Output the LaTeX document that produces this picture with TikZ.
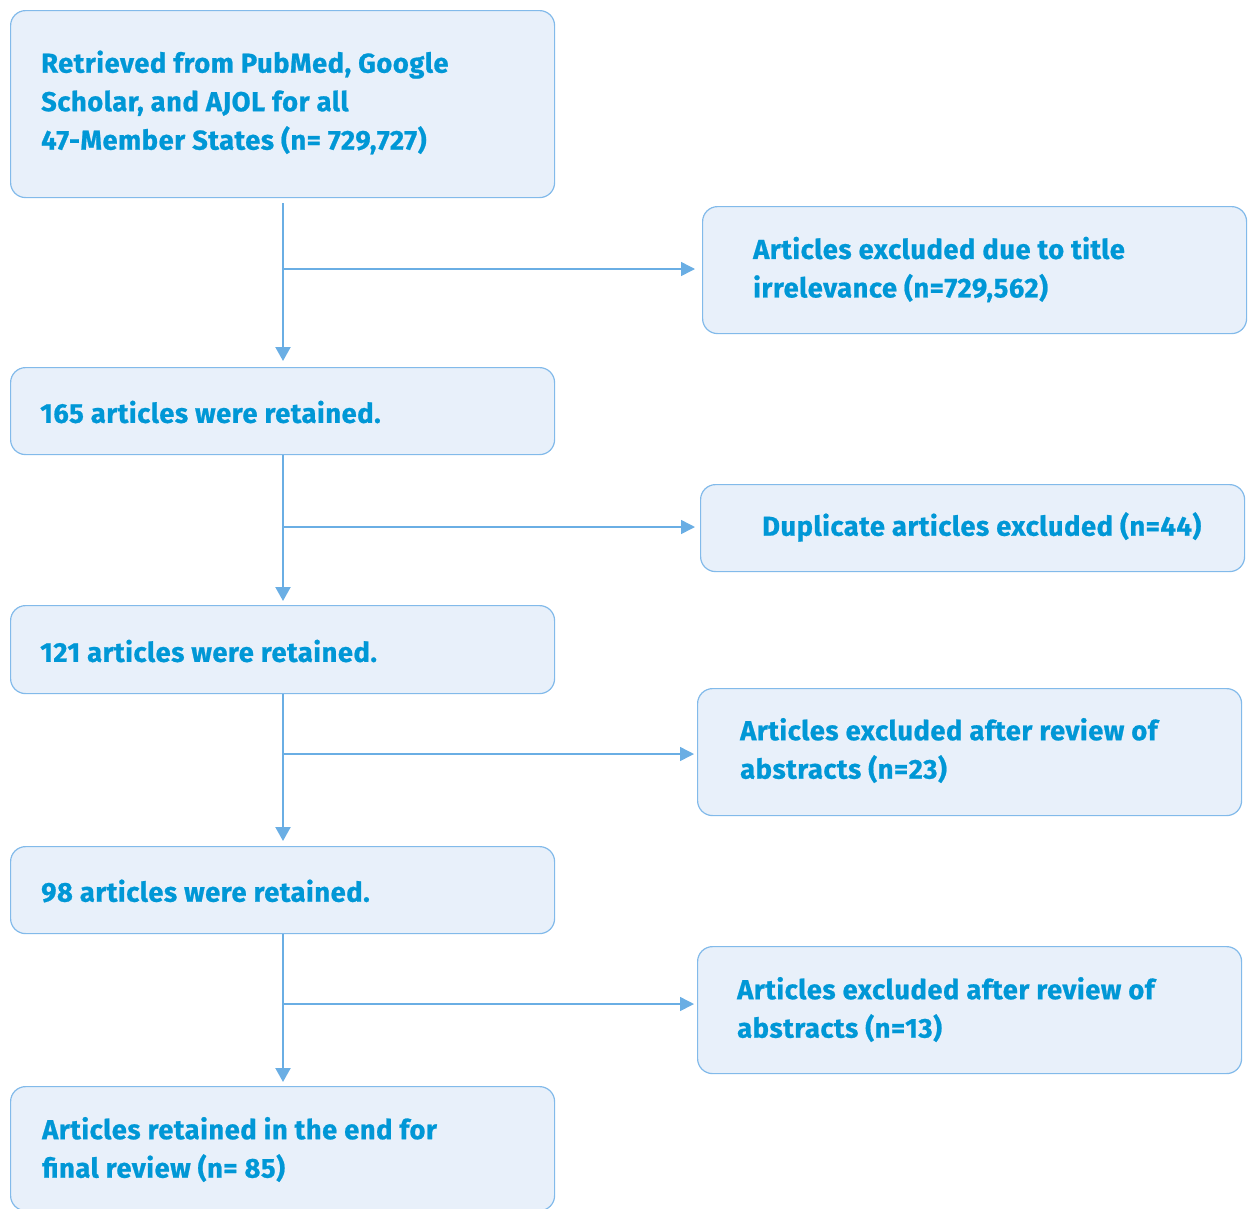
\documentclass[tikz,border=0pt]{standalone}
\usepackage{fontspec}
\setmainfont{Fira Sans}[LetterSpace=2,BoldFeatures={FakeBold=0.8}]
\usetikzlibrary{arrows.meta}
\definecolor{txt}{RGB}{0,151,214}
\definecolor{bfill}{RGB}{232,240,250}
\definecolor{bdraw}{RGB}{130,186,234}
\definecolor{ln}{RGB}{106,174,228}
\begin{document}
\begin{tikzpicture}[x=1pt,y=-1pt,
  box/.style={draw=bdraw,fill=bfill,line width=1.2pt,rounded corners=15pt,
    minimum width=544pt,inner sep=0pt,anchor=north west},
  lbl/.style={align=left,text=txt,inner sep=0pt,anchor=west,
    font=\fontsize{27.3}{38.5}\selectfont\bfseries},
  conn/.style={draw=ln,line width=2.2pt,-{Triangle[length=14pt,width=15pt]}},
  branch/.style={draw=ln,line width=1.5pt,-{Triangle[length=14pt,width=14pt]}}]
\useasboundingbox (0,0) rectangle (1248,1208);
\node[box,minimum height=187pt] (b1) at (10,10) {};
\node[box,minimum height=127pt] (r1) at (702,206) {};
\node[box,minimum height=87pt] (b2) at (10,367) {};
\node[box,minimum height=87pt] (r2) at (700,484) {};
\node[box,minimum height=88pt] (b3) at (10,605) {};
\node[box,minimum height=127pt] (r3) at (697,688) {};
\node[box,minimum height=87pt] (b4) at (10,846) {};
\node[box,minimum height=127pt] (r4) at (697,946) {};
\node[box,minimum height=124pt] (b5) at (10,1086) {};
\node[lbl] (t1) at (41,102.5) {Retrieved from PubMed, Google\\Scholar, and AJOL for all\\47-Member States (n= 729,727)};
\node[lbl] (tr1) at (753,269.5) {Articles excluded due to title\\irrelevance (n=729,562)};
\node[lbl] (t2) at (40,412) {165 articles were retained.};
\node[lbl] (tr2) at (762,527) {Duplicate articles excluded (n=44)};
\node[lbl] (t3) at (40,651) {121 articles were retained.};
\node[lbl] (tr3) at (740,750.5) {Articles excluded after review of\\abstracts (n=23)};
\node[lbl] (t4) at (41,891) {98 articles were retained.};
\node[lbl] (tr4) at (737,1009.5) {Articles excluded after review of\\abstracts (n=13)};
\node[lbl] (t5) at (42,1149.5) {Articles retained in the end for\\final review (n= 85)};
\coordinate (j1) at (283,269);
\coordinate (j2) at (283,527);
\coordinate (j3) at (283,754);
\coordinate (j4) at (283,1004);
\draw[conn,shorten <=5pt,shorten >=6pt] (b1.south -| j1) -- (b2.north -| j1);
\draw[conn,shorten >=4pt] (b2.south -| j2) -- (b3.north -| j2);
\draw[conn,shorten >=5pt] (b3.south -| j3) -- (b4.north -| j3);
\draw[conn,shorten >=4pt] (b4.south -| j4) -- (b5.north -| j4);
\draw[branch,shorten >=7pt] (j1) -- (j1 -| r1.west);
\draw[branch,shorten >=5pt] (j2) -- (j2 -| r2.west);
\draw[branch,shorten >=3pt] (j3) -- (j3 -| r3.west);
\draw[branch,shorten >=3pt] (j4) -- (j4 -| r4.west);
\end{tikzpicture}
\end{document}
